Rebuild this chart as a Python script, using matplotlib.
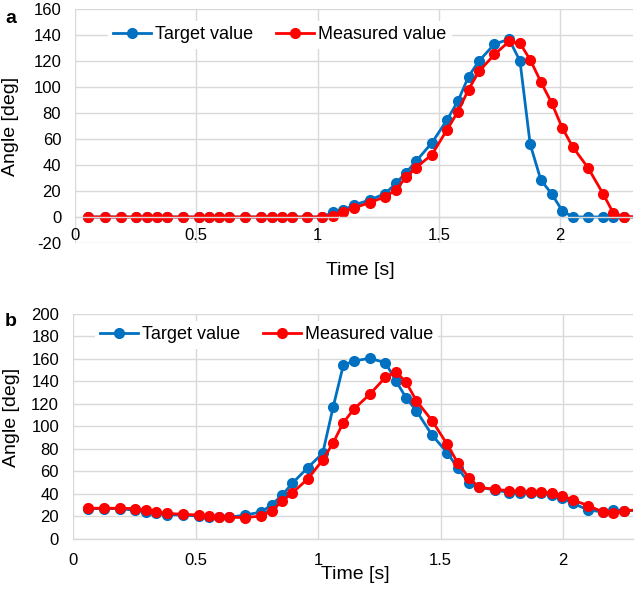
import matplotlib
matplotlib.use("Agg")
import matplotlib.pyplot as plt

plt.rcParams['font.family'] = ['Liberation Sans', 'DejaVu Sans']
plt.rcParams['axes.unicode_minus'] = False

# panel a
time_a = [0.055, 0.125, 0.19, 0.251, 0.295, 0.338, 0.38, 0.444, 0.511, 0.552,
          0.595, 0.636, 0.702, 0.768, 0.81, 0.853, 0.895, 0.957, 1.02, 1.064,
          1.106, 1.15, 1.214, 1.279, 1.323, 1.364, 1.406, 1.471, 1.533, 1.578,
          1.622, 1.665, 1.729, 1.789, 1.834, 1.876, 1.92, 1.965, 2.008, 2.051,
          2.114, 2.176, 2.218, 2.262, 2.33]
target_a = [0] * 19 + [3.6, 5.4, 9.2, 13, 18, 26, 34, 43, 57, 74.6, 89, 108, 120,
                       133, 136.7, 120, 56, 28.5, 17.7, 4.9, 0, 0, 0, 0, 0, 0]
measured_a = [0] * 18 + [0, 1, 4, 7, 11, 15.6, 21, 30.5, 38, 48, 67, 81, 98, 112,
                         125, 135, 133.6, 121, 104, 87.5, 68.7, 54, 38, 18, 3.3,
                         0.3, 0]

# panel b
time_b = [0.062, 0.128, 0.192, 0.253, 0.297, 0.339, 0.382, 0.448, 0.513, 0.555,
          0.597, 0.638, 0.703, 0.769, 0.811, 0.853, 0.895, 0.958, 1.019, 1.062,
          1.103, 1.147, 1.211, 1.275, 1.318, 1.359, 1.401, 1.465, 1.527, 1.571,
          1.615, 1.657, 1.721, 1.781, 1.824, 1.867, 1.91, 1.955, 1.997, 2.04,
          2.102, 2.163, 2.205, 2.249, 2.32]
target_b = [27, 27, 27, 25.5, 24.3, 22.8, 21.6, 21.3, 20.4, 19.9, 19.3, 19.3,
            21.3, 24, 30.5, 38.8, 49.5, 63.4, 76.2, 117.6, 154.4, 158.2, 160.6,
            156.7, 140.4, 125.6, 114, 92.4, 76.7, 62.8, 50, 46, 43.6, 41.2, 41.2,
            41.2, 40.6, 39, 36.1, 31.7, 25.8, 24, 25.8, 25.2, 25.5]
measured_b = [27.3, 27.3, 27.3, 27, 25.8, 24.3, 22.8, 21.9, 21.3, 20.4, 19.6,
              19.3, 19, 20.4, 25.2, 33.5, 41, 53.3, 70.2, 85.6, 103.4, 115.6,
              128.6, 143.7, 148.7, 139.3, 123, 105.2, 84.1, 67.3, 54.5, 46, 44.1,
              42.9, 42.4, 42.1, 41.8, 40.6, 38.5, 34.7, 29.6, 24, 22.8, 25.2, 26]

x_ticks = [0, 0.5, 1, 1.5, 2]
x_tick_labels = ["0", "0.5", "1", "1.5", "2"]

BLUE = "#0070C0"
RED = "#FF0000"
GRID = "#D9D9D9"

fig = plt.figure(figsize=(6.38, 5.97), dpi=100)
ax_a = fig.add_axes([0.1176, 0.5930, 0.8746, 0.3920])
ax_b = fig.add_axes([0.1144, 0.0972, 0.8777, 0.3769])


def style_axis(ax, xmax, ylim, ystep):
    ax.set_xlim(0, xmax)
    ax.set_ylim(*ylim)
    ax.set_xticks(x_ticks)
    ax.set_xticklabels(x_tick_labels)
    ax.set_yticks(range(ylim[0], ylim[1] + 1, ystep))
    ax.grid(True, color=GRID, linewidth=1.0)
    ax.set_axisbelow(True)
    for s in ["top", "right", "left"]:
        ax.spines[s].set_visible(False)
    ax.spines["bottom"].set_position(("data", 0))
    ax.spines["bottom"].set_color(GRID)
    ax.spines["bottom"].set_linewidth(1.0)
    ax.tick_params(axis="both", length=0, labelsize=12)
    ax.tick_params(axis="y", pad=10)


for ax, t, tgt, meas, xmax, ylim, ystep in [
    (ax_a, time_a, target_a, measured_a, 2.3, (-20, 160), 20),
    (ax_b, time_b, target_b, measured_b, 2.285, (0, 200), 20),
]:
    style_axis(ax, xmax, ylim, ystep)
    ax.plot(t, tgt, color=BLUE, lw=2.0, marker="o", ms=7, label="Target value")
    ax.plot(t, meas, color=RED, lw=2.0, marker="o", ms=7, label="Measured value")
    ax.set_ylabel("Angle [deg]", fontsize=14)
    ax.set_xlabel("Time [s]", fontsize=14)

ax_a.tick_params(axis="x", pad=8)
ax_b.tick_params(axis="x", pad=10)

ax_a.xaxis.set_label_coords(0.512, -0.08)
ax_b.xaxis.set_label_coords(0.504, -0.12)
ax_a.yaxis.set_label_coords(-0.10, 0.5)
ax_b.yaxis.set_label_coords(-0.095, 0.54)

for ax, cx, cy in [(ax_a, 0.367, 0.889), (ax_b, 0.3455, 0.907)]:
    leg = ax.legend(loc="center", bbox_to_anchor=(cx, cy), ncol=2, fontsize=13,
                    frameon=True, fancybox=False, handlelength=2.1,
                    handletextpad=0.2, columnspacing=1.3, borderpad=0.3,
                    borderaxespad=0)
    leg.get_frame().set_facecolor("white")
    leg.get_frame().set_edgecolor("none")
    leg.get_frame().set_alpha(1)

fig.text(0.008, 0.983, "a", fontsize=14, fontweight="bold", va="top")
fig.text(0.008, 0.475, "b", fontsize=14, fontweight="bold", va="top")

fig.savefig("out.png", dpi=100)
plt.close(fig)
